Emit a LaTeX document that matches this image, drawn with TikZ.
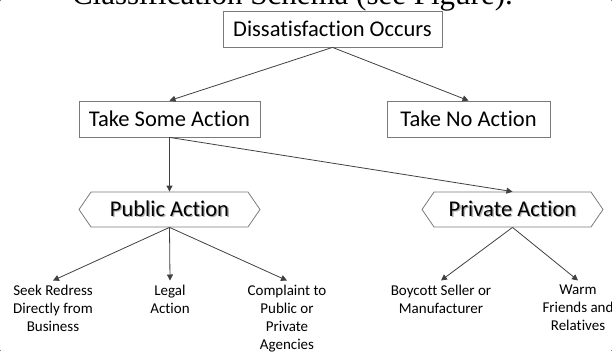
\documentclass[tikz,border=0pt]{standalone}
\usepackage{fontspec}
\setmainfont{Carlito}[Ligatures=NoCommon]
\newfontfamily\serifline{Liberation Serif}
\usepackage{tikz}
\usetikzlibrary{shapes.symbols,arrows.meta}
\definecolor{boxgray}{HTML}{7A7A7A}
\definecolor{linegray}{HTML}{404040}
\newcommand{\shadowed}[1]{\makebox[0pt][l]{\kern1.3pt\raisebox{-1.3pt}{\color{black!30}#1}}#1}

\begin{document}
\begin{tikzpicture}[x=1pt,y=1pt,
	box/.style={draw=boxgray,line width=0.8pt,minimum height=36pt,inner sep=0pt,font=\fontsize{22.5}{27}\selectfont},
	hexbox/.style={draw=boxgray,line width=0.8pt,signal,signal to=east and west,signal pointer angle=111,
		minimum height=35pt,minimum width=181pt,inner sep=0pt,font=\fontsize{22.5}{27}\selectfont},
	leaf/.style={align=center,inner sep=0pt,anchor=north,font=\fontsize{15}{18.1}\selectfont},
	arr/.style={draw=linegray,line width=0.8pt,-{Triangle[length=6pt,width=6pt]}}]
	% page corners
	\fill[black!50] (0,0) rectangle (1,-1);
	\fill[black!50] (611,-350) rectangle (612,-351);
	\fill[black!50] (611,0) rectangle (612,-1);
	\fill[black!50] (0,-350) rectangle (1,-351);
	\useasboundingbox (0,0) rectangle (612,-351);
	% cut-off line of running text above the figure
	\begin{scope}
		\clip (0,0) rectangle (612,-351);
		\node[anchor=base east,inner sep=0pt,font=\serifline\fontsize{31}{36}\selectfont] (intro) at (513,-4.5)
			{Classification Schema (see Figure).};
	\end{scope}
	% top level
	\node[box,minimum width=219pt] (occurs) at (332.5,-29) {Dissatisfaction Occurs};
	\node[box,minimum width=181pt] (some) at (169.5,-119) {Take Some Action};
	\node[box,minimum width=163pt] (none) at (468.5,-119) {Take No Action};
	% kinds of action
	\node[hexbox] (public) at (169.5,-209.5) {\shadowed{Public Action}};
	\node[hexbox] (private) at (512.5,-209.5) {\shadowed{Private Action}};
	% outcomes
	\node[leaf] (seek) at (53,-284.5) {Seek Redress\\Directly from\\Business};
	\node[leaf] (legal) at (170,-284.5) {Legal\\Action};
	\node[leaf] (complaint) at (287,-284.5) {Complaint to\\Public or\\Private\\Agencies};
	\node[leaf] (boycott) at (441,-284.5) {Boycott Seller or\\Manufacturer};
	\node[leaf] (warn) at (578,-284.5) {Warm\\Friends and\\Relatives};
	% connectors
	\draw[arr] (occurs.south) -- (some.north);
	\draw[arr] (occurs.south) -- (none.north);
	\draw[arr] (some.south) -- (public.north);
	\draw[arr] (some.south) -- (private.north);
	\foreach \t in {seek,legal,complaint}{
		\draw[arr] (public.south) -- ([yshift=4pt]\t.north);
	}
	\foreach \t in {boycott,warn}{
		\draw[arr] (private.south) -- ([yshift=4pt]\t.north);
	}
\end{tikzpicture}
\end{document}
